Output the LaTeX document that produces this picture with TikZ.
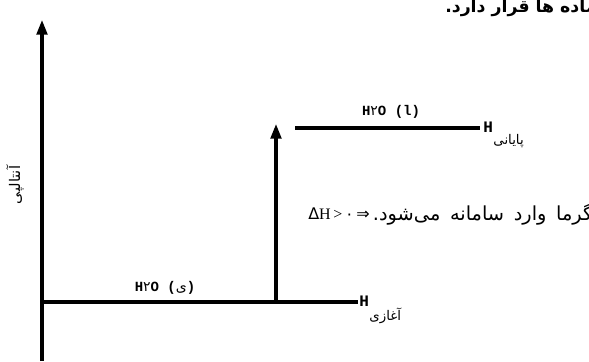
\documentclass[tikz,border=0pt]{standalone}
\usepackage{fontspec}
\setmainfont{Liberation Serif}
\newfontfamily\arabicfont[Script=Arabic]{DejaVu Sans}
\newfontfamily\labfont{Liberation Mono}
\newfontfamily\symfont{DejaVu Sans}
\TeXXeTstate=1
\usetikzlibrary{arrows.meta}
\begin{document}
\begin{tikzpicture}[x=0.75pt,y=-0.75pt,
  axisline/.style={line width=2.3pt},
  levelline/.style={line width=3pt},
  uptip/.style={-{Triangle[length=11pt,width=8pt]}},
  lab/.style={inner sep=0pt,font=\labfont\bfseries\fontsize{10.5}{12}\selectfont},
  fa/.style={inner sep=0pt,font=\arabicfont\fontsize{14}{16}\selectfont},
  fasub/.style={inner sep=0pt,font=\arabicfont\fontsize{10}{11}\selectfont}]
\useasboundingbox (0,0) rectangle (589,361);
% axis
\coordinate (ax0) at (42,361);
\coordinate (ax1) at (42,20);
\draw[axisline,uptip] (ax0) -- (ax1);
% bottom level
\coordinate (b0) at (42,302);
\coordinate (b1) at (358,302);
\draw[levelline] (b0) -- (b1);
% rise arrow
\coordinate (r0) at (276,302);
\coordinate (r1) at (276,124);
\draw[axisline,uptip] (r0) -- (r1);
% top level
\coordinate (t0) at (295,128);
\coordinate (t1) at (480,128);
\draw[levelline] (t0) -- (t1);
% labels
\node[lab] (hl) at (391,112) {H{\arabicfont\mdseries ۲}O (l)};
\node[lab] (hs) at (165,288) {H{\arabicfont\mdseries ۲}O ({\arabicfont\mdseries ی})};
\node[lab,anchor=west,font=\labfont\bfseries\fontsize{12}{13}\selectfont] (hf) at (483,127) {H};
\node[fasub,anchor=north west] (hfs) at ([yshift=-1pt]hf.south east) {\beginR پایانی\endR};
\node[lab,anchor=west,font=\labfont\bfseries\fontsize{12}{13}\selectfont] (hi) at (359,301) {H};
\node[fasub,anchor=north west] (his) at ([yshift=-1pt]hi.south east) {\beginR آغازی\endR};
% middle statement
\node[inner sep=0pt,anchor=west,font=\fontsize{12}{14}\selectfont] (dh) at (308,214) {{\symfont Δ}H\,>\,{\arabicfont ۰}\,{\symfont ⇒}};
\node[fa,anchor=west,font=\arabicfont\fontsize{14.5}{16}\selectfont] (heat) at ([xshift=2pt]dh.east) {\spaceskip=0.5em\relax\beginR گرما وارد سامانه می‌شود.\endR};
% axis title
\node[fa,rotate=90,font=\arabicfont\fontsize{11}{13}\selectfont] (enth) at (15,185) {\beginR آنتالپی\endR};
% top cut text
\node[inner sep=0pt,anchor=north west,font=\arabicfont\bfseries\fontsize{13}{15}\selectfont] (top) at (445,-1) {\beginR ماده ها قرار دارد.\endR};
\end{tikzpicture}
\end{document}
